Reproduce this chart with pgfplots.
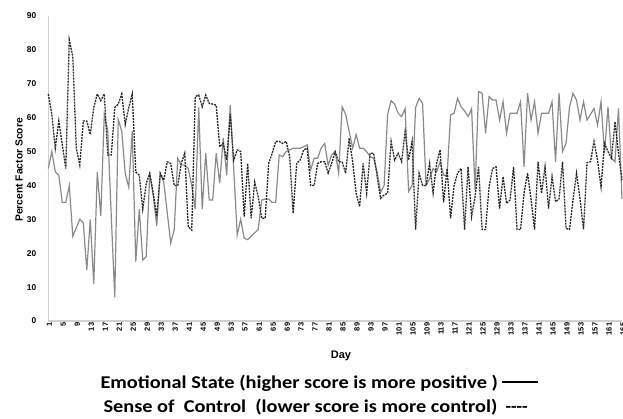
\documentclass[border=0pt]{standalone}
\usepackage{fontspec}
\setmainfont{Liberation Sans}
\newfontfamily\calibri{Carlito}
\usepackage{pgfplots}
\usepackage{pgfplotstable}
\pgfplotsset{compat=1.18}
\definecolor{esgray}{RGB}{138,138,138}
\definecolor{scdark}{RGB}{40,40,40}
\definecolor{axgray}{RGB}{208,208,208}

\pgfplotstableread{
day es sc
1 45 67
2 50 61
3 44 51
4 43 59
5 35 52
6 35 45
7 40 83
8 25 78
9 27.5 51
10 30 46
11 29 59
12 15 59
13 30 55
14 11 63
15 44 67
16 31 65
17 61 67
18 56 49
19 31 49
20 7 63
21 59.5 64
22 56 67
23 43.5 58
24 39.5 63
25 56 67
26 17.5 44
27 33 43
28 18 33
29 19 40.6
30 43.5 43.6
31 37 37.7
32 28 30.8
33 43.5 43.6
34 41 41.6
35 32 47
36 23 46.5
37 27 40
38 48 40
39 46 46.5
40 46 49.5
41 45 27.8
42 40 26.8
43 33 66.2
44 63 66.7
45 33 63.2
46 49.5 66.7
47 35.7 64.2
48 35.7 64
49 49.5 63.7
50 40.6 51.4
51 54 52.4
52 43 47.5
53 63.7 61
54 45 47.5
55 25.4 50.5
56 30 50
57 24.4 30.8
58 24 46.5
59 25 30.3
60 26 41
61 27 36.7
62 35.7 30.3
63 36 30.3
64 36 46.5
65 35 49.5
66 35 53
67 49 53
68 48.5 52.4
69 50 53
70 50.5 48.5
71 51 31.8
72 51 46.5
73 51 47.5
74 51.4 50.5
75 52 51
76 44.6 40
77 48 40
78 48 46.5
79 51 47
80 52.4 47
81 46 43.6
82 49 46.5
83 50 50
84 43.6 47
85 63.2 47
86 61 43.6
87 56 53.9
88 51 47
89 55 37.7
90 51 33.7
91 51 46.5
92 50 37.7
93 48.5 49.5
94 48 49.5
95 44 42.6
96 38 36.2
97 40 37.2
98 61 37.7
99 65 53
100 64 47.5
101 61.3 49.5
102 60.3 47
103 62.7 55.9
104 38.2 47.5
105 40 53
106 63 27
107 65.7 43.6
108 64.2 40
109 40 40
110 42 46.5
111 45 37.7
112 44 46.5
113 47 50.5
114 43 35
115 43 45
116 60.8 30.3
117 61.3 40
118 65.7 43.6
119 63.2 45
120 62 27
121 60.3 45.5
122 62.7 30.8
123 38.7 36.7
124 67.7 45.5
125 67.2 27
126 55.4 27
127 66.2 39.6
128 65.2 45
129 65.2 45.5
130 59.3 33.2
131 64.7 42.6
132 55.4 34.7
133 61.3 35.7
134 61.3 45.5
135 61.3 27
136 64.7 27
137 45.5 37.7
138 67.2 43.6
139 59.3 36
140 64.7 27
141 55.4 47
142 61.3 37.7
143 61.3 45.5
144 61.3 33.2
145 64.7 42.6
146 47 35.2
147 67.2 36
148 50 47
149 52.4 27.3
150 63.2 27
151 67.2 35.7
152 65.2 43.6
153 59.3 36
154 64.7 27
155 59.3 46.7
156 61 47
157 62.7 53
158 57.8 47.5
159 64.7 39.6
160 49.5 52.4
161 63.2 50
162 48 48
163 47 58.8
164 62.7 49.5
165 36 41.6
}\datatable

\begin{document}
\begin{tikzpicture}
\useasboundingbox (-48.3bp,-98bp) rectangle (574.7bp,321bp);
\begin{axis}[
  at={(0,0)}, anchor=south west,
  scale only axis,
  width=573.7bp, height=305bp,
  xmin=1, xmax=165, ymin=0, ymax=90,
  axis x line=bottom, axis y line=left,
  axis line style={draw=axgray, line width=1.2bp, -},
  major tick length=0pt,
  ytick={0,10,...,90},
  xtick={1,5,...,165},
  /pgf/number format/assume math mode=true,
  yticklabel style={font=\bfseries\fontsize{8.4bp}{10bp}\selectfont, anchor=east, xshift=-8.5bp},
  xticklabel style={font=\bfseries\fontsize{7.5bp}{9bp}\selectfont, rotate=90, anchor=east, yshift=-1bp, inner sep=1.5bp},
  clip=false,
]
\addplot[esgray, line width=1.2bp] table[x=day, y=es] {\datatable};
\addplot[scdark, line width=1.3bp, dash pattern=on 2bp off 1bp] table[x=day, y=sc] {\datatable};
\end{axis}
\node[font=\bfseries\fontsize{10.3bp}{12bp}\selectfont, rotate=90] at (-29.3bp,151bp) {Percent Factor Score};
\node[font=\bfseries\fontsize{11bp}{13bp}\selectfont] at (292.7bp,-35bp) {Day};
\node[anchor=base west, inner sep=0pt, font=\calibri\bfseries\fontsize{18bp}{20bp}\selectfont] at (52bp,-67bp) {\scalebox{1.13}[1]{Emotional State (higher score is more positive )} \rule[0.3em]{36bp}{1.3bp}};
\node[anchor=base west, inner sep=0pt, font=\calibri\bfseries\fontsize{18bp}{20bp}\selectfont] at (55bp,-91bp) {\scalebox{1.13}[1]{Sense of\ \ Control\ \ (lower score is more control)}\ \ ----};
\end{tikzpicture}
\end{document}
